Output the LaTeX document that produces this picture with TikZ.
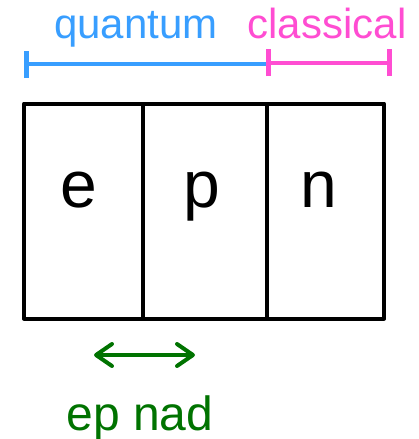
\documentclass[tikz,border=0pt]{standalone}
\usepackage{fontspec}
\setmainfont{Liberation Sans}
\usetikzlibrary{arrows.meta}
\definecolor{qblue}{RGB}{56,158,255}
\definecolor{cpink}{RGB}{255,77,210}
\definecolor{nadgreen}{RGB}{0,115,0}
\tikzset{
  cell/.style={draw=black, line width=4pt, inner sep=0pt, outer sep=0pt,
    minimum height=215pt, line join=round},
  letter/.style={anchor=base, inner sep=0pt, font=\fontsize{66}{70}\selectfont},
  rangetext/.style={anchor=base, inner sep=0pt, font=\fontsize{42}{48}\selectfont},
  rangeline/.style={line width=4pt},
  rangetick/.style={line width=5pt},
  swap/.style={nadgreen, line width=4pt, line cap=round,
    {Straight Barb[length=16pt,width=22pt,line cap=round,line join=round]}-{Straight Barb[length=16pt,width=22pt,line cap=round,line join=round]}}
}
\begin{document}
\begin{tikzpicture}[x=1pt,y=-1pt]
  \useasboundingbox (0,0) rectangle (419,439);

  % the three regions of the molecule
  \node[cell, minimum width=119pt] (ce) at (83.5,211) {};
  \node[cell, minimum width=124pt] (cp) at (205,211) {};
  \node[cell, minimum width=117pt] (cn) at (325.5,211) {};
  \node[letter] (le) at (79,207) {e};
  \node[letter] (lp) at (202,207) {p};
  \node[letter] (ln) at (319,207) {n};

  % quantum / classical ranges
  \coordinate (qL) at (26,64);
  \coordinate (qR) at (268,64);
  \coordinate (cL) at (268,63);
  \coordinate (cR) at (389,63);
  \draw[rangeline, qblue] (qL) -- (qR);
  \draw[rangetick, qblue] ([yshift=-14pt]qL) -- ([yshift=13pt]qL);
  \draw[rangeline, cpink] (cL) -- (cR);
  \draw[rangetick, cpink] ([yshift=-13pt]cL) -- ([yshift=14pt]cL);
  \draw[rangetick, cpink] ([yshift=-13pt]cR) -- ([yshift=14pt]cR);
  \node[rangetext, qblue] (tq) at (136,38) {quantum};
  \node[rangetext, cpink] (tc) at (327,38) {classical};

  % electron-proton non-adiabatic coupling
  \coordinate (aL) at (94,355);
  \coordinate (aR) at (195,355);
  \draw[swap] (aL) -- (aR);
  \node[anchor=base, inner sep=0pt, nadgreen, font=\fontsize{48}{54}\selectfont] (nad) at (140,430) {ep nad};
\end{tikzpicture}
\end{document}
